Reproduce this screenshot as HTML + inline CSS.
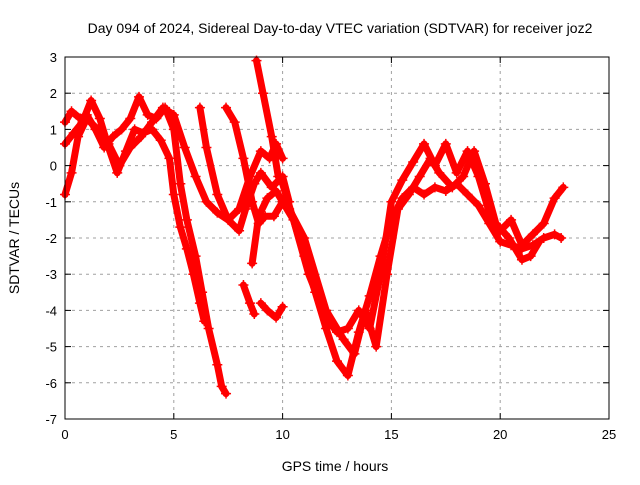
<!DOCTYPE html>
<html><head><meta charset="utf-8"><style>
html,body{margin:0;padding:0;background:#fff;}
svg text{font-family:"Liberation Sans",sans-serif;fill:#000;}
</style></head><body>
<svg id="chart" width="640" height="480" viewBox="0 0 640 480" xmlns="http://www.w3.org/2000/svg">
<text x="340" y="33" font-size="14" text-anchor="middle">Day 094 of 2024, Sidereal Day-to-day VTEC variation (SDTVAR) for receiver joz2</text>
<g id="grid"></g>
<g id="series"></g>
<rect x="65" y="57" width="544" height="362" fill="none" stroke="#000" stroke-width="1"/>
<g id="axes"></g>
<text x="335" y="471" font-size="14" text-anchor="middle">GPS time / hours</text>
<text transform="translate(19,238) rotate(-90)" font-size="14" text-anchor="middle">SDTVAR / TECUs</text>
</svg>
<script>
const xTicks=[0,5,10,15,20,25];
const yTicks=[3,2,1,0,-1,-2,-3,-4,-5,-6,-7];
const t1x=[0,0.3,0.7,1,1.4,1.8,2.2,2.6,3,3.4,3.8,4.2,4.6,5,5.3,5.6,6,6.3,6.6,7,7.2,7.4];
const t1y=[1.2,1.5,1.3,1.4,1.0,0.5,0.8,1.0,1.3,1.9,1.4,1.3,1.6,1.0,-0.5,-1.5,-2.5,-3.5,-4.5,-5.5,-6.1,-6.3];
const t2x=[0,0.4,0.8,1.2,1.6,2,2.4,2.8,3.2,3.6,4,4.4,4.8,5,5.3,5.6,5.9,6.2,6.4];
const t2y=[0.6,0.9,1.2,1.8,1.3,0.5,-0.2,0.4,1.0,0.9,1.0,0.7,0.2,-0.8,-1.7,-2.3,-3.0,-3.8,-4.3];
const t3x=[0,0.3,0.6,1,1.5,2,2.5,3,3.5,4,4.5,5,5.5,6,6.5,7,7.5,8,8.5,9,9.4,9.7,10];
const t3y=[-0.8,-0.2,0.8,1.3,1.0,0.6,0,0.5,0.8,1.2,1.6,1.4,0.5,-0.3,-1.0,-1.3,-1.5,-1.2,-0.3,0.4,0.2,0.6,0.2];
const t4x=[6.2,6.5,7,7.5,8,8.3,8.7,9,9.5,10,10.3];
const t4y=[1.6,0.5,-0.8,-1.5,-1.8,-1.2,-0.5,-0.2,-0.6,-0.3,-1.0];
const t5x=[7.4,7.8,8.2,8.6,8.9,9.2,9.6,10,10.5,11.2,12,12.5,13,13.5,14,14.5,15,15.5,16,16.5,17,17.5,18,18.5,19,19.5,20,20.5,21,21.5,22,22.5,22.9];
const t5y=[1.6,1.2,0.2,-1,-1.6,-1.4,-1.4,-1.0,-1.5,-3.0,-4.2,-4.6,-4.5,-4.0,-4.5,-3.0,-1.0,-0.4,0.1,0.6,0.0,0.6,-0.2,0.4,-0.3,-1.3,-1.8,-1.5,-2.2,-1.9,-1.6,-0.9,-0.6];
const t6x=[8.8,9.1,9.5,9.8,10,11,11.5,12,12.5,13,13.5,14,14.5,15,15.5,16,16.5,17,17.5,18,18.5,19,19.5,20,20.5,21,21.5,22,22.5,22.8];
const t6y=[2.9,2.0,0.8,-0.3,-0.5,-2.5,-3.5,-4.5,-5.4,-5.8,-4.6,-3.6,-2.5,-1.5,-0.9,-0.6,-0.8,-0.6,-0.7,-0.5,-0.8,-1.1,-1.6,-2.1,-2.2,-2.3,-2.2,-2.0,-1.9,-2.0];
const t7x=[8.6,8.9,9.3,9.7,10,10.3,11,12,12.8,13.3,13.8,14.3,14.8,15.3,15.8,16.3,16.8,17.2,17.8,18.3,18.8,19.3,19.8,20.4,21,21.4,21.8];
const t7y=[-2.7,-1.4,-0.9,-0.7,-1.0,-1.2,-2,-4,-4.8,-5.2,-4,-5.0,-3,-1.2,-0.8,-0.3,0.2,-0.2,-0.6,-0.3,0.4,-0.5,-1.6,-2,-2.6,-2.5,-2.1];
const t8x=[8.2,8.5,8.7];
const t8y=[-3.3,-3.8,-4.1];
const t9x=[9,9.3,9.7,10];
const t9y=[-3.8,-4.0,-4.2,-3.9];
const seriesX=[t1x,t2x,t3x,t4x,t5x,t6x,t7x,t8x,t9x];
const seriesY=[t1y,t2y,t3y,t4y,t5y,t6y,t7y,t8y,t9y];
const NS="http://www.w3.org/2000/svg";
const X0=65,X1=609,Y0=57,Y1=419;
function sx(v){return X0+(v-0)/(25-0)*(X1-X0);}
function sy(v){return Y0+(3-v)/(3-(-7))*(Y1-Y0);}
function mk(tag,attrs,parent){const e=document.createElementNS(NS,tag);for(const k in attrs)e.setAttribute(k,attrs[k]);parent.appendChild(e);return e;}
const grid=document.getElementById('grid'),axes=document.getElementById('axes'),ser=document.getElementById('series');
xTicks.forEach(t=>{const x=sx(t);
 if(t>0&&t<25){const g=mk('line',{x1:x,x2:x,y1:Y0,y2:Y1,stroke:'#a0a0a0','stroke-dasharray':'3,4'},grid);
 
 }
 mk('line',{x1:x,x2:x,y1:Y1,y2:Y1-6,stroke:'#000'},axes);mk('line',{x1:x,x2:x,y1:Y0,y2:Y0+6,stroke:'#000'},axes);
 const l=mk('text',{x:x,y:Y1+20,'font-size':13,'text-anchor':'middle'},axes);l.textContent=t;
 
 });
yTicks.forEach(t=>{const y=sy(t);
 if(t<3&&t>-7){const g=mk('line',{x1:X0,x2:X1,y1:y,y2:y,stroke:'#a0a0a0','stroke-dasharray':'3,4'},grid);
 
 }
 mk('line',{x1:X0,x2:X0+6,y1:y,y2:y,stroke:'#000'},axes);mk('line',{x1:X1,x2:X1-6,y1:y,y2:y,stroke:'#000'},axes);
 const l=mk('text',{x:X0-8,y:y+5,'font-size':13,'text-anchor':'end'},axes);l.textContent=t;
 
 });
seriesX.forEach((xs,i)=>{const ys=seriesY[i];
 const g=mk('g',{},ser);
 
 
 const pts=xs.map((x,j)=>sx(x)+','+sy(ys[j])).join(' ');
 mk('polyline',{points:pts,fill:'none',stroke:'#ff0000','stroke-width':7,'stroke-linejoin':'round','stroke-linecap':'round'},g);
 xs.forEach((x,j)=>{const px=sx(x),py=sy(ys[j]);
  mk('path',{d:`M${px-5},${py}H${px+5}M${px},${py-5}V${py+5}`,stroke:'#ff0000','stroke-width':1.5},g);});
});
</script>
</body></html>
